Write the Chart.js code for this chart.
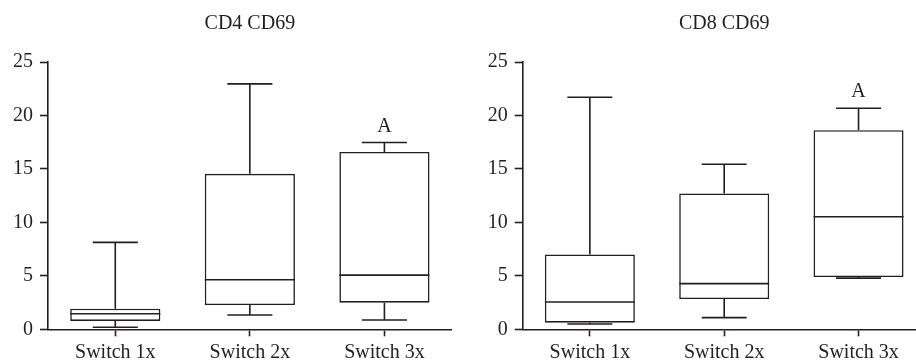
<!DOCTYPE html>
<html>
<head>
<meta charset="utf-8">
<title>CD69 box plots</title>
<script src="https://cdn.jsdelivr.net/npm/chart.js@4/dist/chart.umd.min.js"></script>
<style>
    html, body { margin: 0; padding: 0; background: #fff; overflow: hidden; }
    body { width: 916px; height: 361px; position: relative; }
    .panel { position: absolute; top: 0; height: 361px; }
    #leftPanel { left: 0; width: 460px; }
    #rightPanel { left: 460px; width: 470px; }
</style>
</head>
<body>
<div class="panel" id="leftPanel"><canvas id="cd4Chart"></canvas></div>
<div class="panel" id="rightPanel"><canvas id="cd8Chart"></canvas></div>
<script>
// Box plot values
const categories = ['Switch 1x', 'Switch 2x', 'Switch 3x'];

const cd4Min = [0.19, 1.34, 0.87];
const cd4Q1 = [0.78, 2.27, 2.49];
const cd4Median = [1.46, 4.64, 5.07];
const cd4Q3 = [1.93, 14.54, 16.59];
const cd4Max = [8.13, 22.95, 17.47];

const cd8Min = [0.50, 1.09, 4.79];
const cd8Q1 = [0.62, 2.83, 4.89];
const cd8Median = [2.55, 4.27, 10.52];
const cd8Q3 = [7.00, 12.70, 18.62];
const cd8Max = [21.70, 15.44, 20.67];

const sigLabels = ['', '', 'A'];

const yMin = 0;
const yMax = 25;
const yStep = 5;

const ink = '#231f20';
const fontFamily = '"Liberation Serif", "DejaVu Serif", serif';

// draws whiskers, caps, medians and the letter above each box
const whiskerPlugin = {
    id: 'whiskers',
    afterDatasetsDraw(chart) {
        const stats = chart.options.plugins.whiskers;
        const xScale = chart.scales.x;
        const yScale = chart.scales.y;
        const bars = chart.getDatasetMeta(0).data;
        const ctx = chart.ctx;

        ctx.save();
        ctx.strokeStyle = ink;
        ctx.lineWidth = 1.6;
        ctx.lineCap = 'butt';

        stats.median.forEach((med, i) => {
            const x = xScale.getPixelForValue(i);
            const half = bars[i].width / 2;
            const cap = half / 2;
            const yMinPx = yScale.getPixelForValue(stats.min[i]);
            const yQ1 = yScale.getPixelForValue(stats.q1[i]);
            const yQ3 = yScale.getPixelForValue(stats.q3[i]);
            const yMaxPx = yScale.getPixelForValue(stats.max[i]);
            const yMed = yScale.getPixelForValue(med);

            ctx.beginPath();
            // upper whisker
            ctx.moveTo(x, yQ3);
            ctx.lineTo(x, yMaxPx);
            ctx.moveTo(x - cap, yMaxPx);
            ctx.lineTo(x + cap, yMaxPx);
            // lower whisker
            ctx.moveTo(x, yQ1);
            ctx.lineTo(x, yMinPx);
            ctx.moveTo(x - cap, yMinPx);
            ctx.lineTo(x + cap, yMinPx);
            // median
            ctx.moveTo(x - half, yMed);
            ctx.lineTo(x + half, yMed);
            ctx.stroke();

            if (stats.labels[i]) {
                ctx.fillStyle = ink;
                ctx.font = '20px ' + fontFamily;
                ctx.textAlign = 'center';
                ctx.textBaseline = 'alphabetic';
                ctx.fillText(stats.labels[i], x, yMaxPx - 11);
            }
        });

        ctx.restore();
    }
};

function createBoxChart(canvasId, title, min, q1, median, q3, max, rightPad, yWidth) {
    const ctx = document.getElementById(canvasId);

    return new Chart(ctx, {
        type: 'bar',
        data: {
            labels: categories,
            datasets: [{
                label: title,
                data: q1.map((v, i) => [v, q3[i]]),
                backgroundColor: '#ffffff',
                borderColor: ink,
                borderWidth: 1.6,
                borderSkipped: false,
                categoryPercentage: 1,
                barPercentage: 0.67
            }]
        },
        options: {
            responsive: true,
            maintainAspectRatio: false,
            animation: false,
            layout: {
                padding: { left: 0, right: rightPad, top: 0, bottom: 0 }
            },
            plugins: {
                legend: { display: false },
                tooltip: { enabled: false },
                title: {
                    display: true,
                    text: title,
                    fullSize: false,
                    color: ink,
                    font: { family: fontFamily, size: 20, weight: 'normal' },
                    padding: { top: 12, bottom: 26 }
                },
                whiskers: { min: min, q1: q1, median: median, q3: q3, max: max, labels: sigLabels }
            },
            scales: {
                x: {
                    offset: true,
                    grid: {
                        offset: false,
                        drawOnChartArea: false,
                        drawTicks: true,
                        tickLength: 7,
                        tickWidth: 1.6,
                        tickColor: ink
                    },
                    border: { display: true, color: ink, width: 1.6 },
                    ticks: {
                        color: ink,
                        padding: 4,
                        font: { family: fontFamily, size: 20 }
                    },
                    afterFit: (scale) => { scale.height = 31.7; }
                },
                y: {
                    min: yMin,
                    max: yMax,
                    grid: {
                        drawOnChartArea: false,
                        drawTicks: true,
                        tickLength: 8,
                        tickWidth: 1.6,
                        tickColor: ink
                    },
                    border: { display: true, color: ink, width: 1.6 },
                    ticks: {
                        stepSize: yStep,
                        color: ink,
                        padding: 7,
                        font: { family: fontFamily, size: 20 }
                    },
                    afterFit: (scale) => { scale.width = yWidth; }
                }
            }
        },
        plugins: [whiskerPlugin]
    });
}

createBoxChart('cd4Chart', 'CD4 CD69', cd4Min, cd4Q1, cd4Median, cd4Q3, cd4Max, 8.3, 48);
createBoxChart('cd8Chart', 'CD8 CD69', cd8Min, cd8Q1, cd8Median, cd8Q3, cd8Max, 4.3, 62.7);
</script>
</body>
</html>
